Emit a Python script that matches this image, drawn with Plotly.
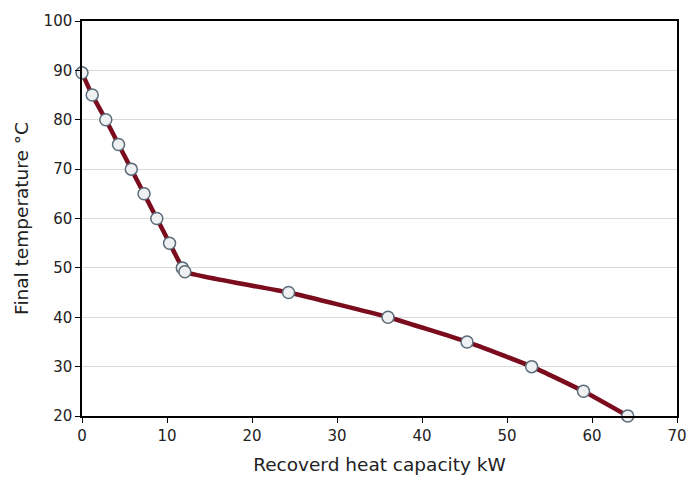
import plotly.graph_objects as go

heat_kw = [0, 1.2, 2.8, 4.3, 5.8, 7.3, 8.8, 10.3, 11.8, 12.1, 24.3, 36.0, 45.3, 52.9, 59.0, 64.2]
temp_c = [89.5, 85, 80, 75, 70, 65, 60, 55, 50, 49.2, 45, 40, 35, 30, 25, 20]

fig = go.Figure()
fig.add_trace(go.Scatter(
    x=heat_kw, y=temp_c, mode="lines+markers",
    line=dict(color="#7a0c1e", width=4.5, shape="spline", smoothing=0.5),
    marker=dict(size=12, color="#eef0f2", line=dict(color="#5b6b78", width=1.5)),
    showlegend=False, cliponaxis=False,
))
font = "'DejaVu Sans', sans-serif"
fig.update_layout(
    width=688, height=481,
    margin=dict(l=82, r=11, t=21, b=65, autoexpand=False),
    paper_bgcolor="white", plot_bgcolor="white",
    font=dict(family=font, color="#222222", size=15),
    xaxis=dict(range=[0, 70], dtick=10, showgrid=False, zeroline=False, automargin=False,
               showline=True, linecolor="black", linewidth=1.5, mirror=True,
               ticks="outside", ticklen=5, tickcolor="black",
               title=dict(text="Recoverd heat capacity kW", font=dict(size=18.5), standoff=14)),
    yaxis=dict(range=[20, 100], dtick=10, showgrid=True, gridcolor="#d9d9d9", automargin=False,
               zeroline=False, showline=True, linecolor="black", linewidth=1.5, mirror=True,
               ticks="outside", ticklen=5, tickcolor="black",
               title=dict(text="Final temperature °C", font=dict(size=18.5), standoff=10)),
)
fig.write_html("out.html")
